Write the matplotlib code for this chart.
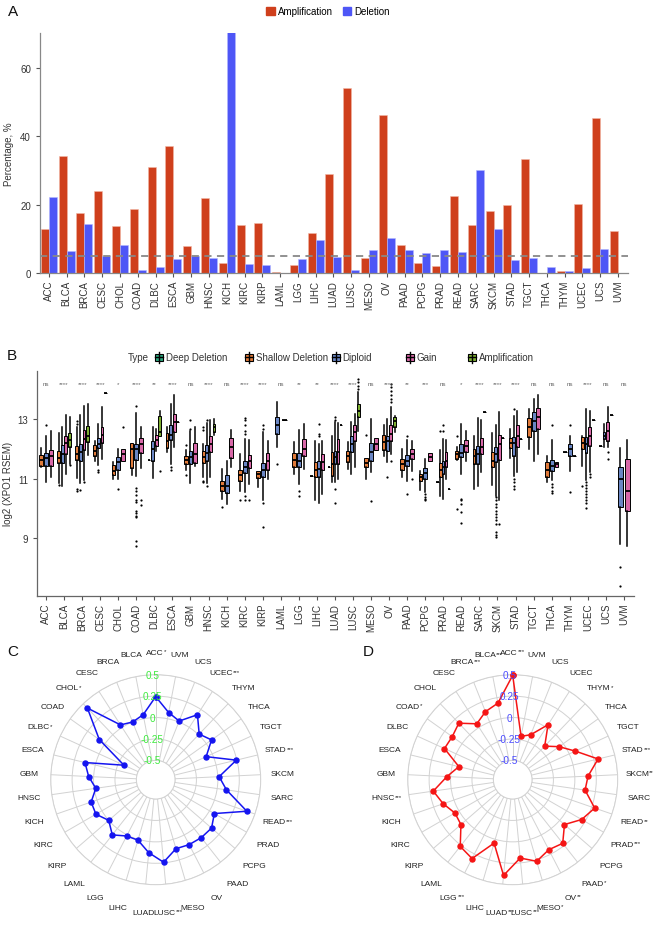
import numpy as np
import matplotlib
matplotlib.use('Agg')
import matplotlib.pyplot as plt
from matplotlib.patches import Rectangle
from matplotlib.lines import Line2D

plt.rcParams['font.family'] = ['Liberation Sans', 'DejaVu Sans']

# ---------------- data ----------------
cancers = ['ACC', 'BLCA', 'BRCA', 'CESC', 'CHOL', 'COAD', 'DLBC', 'ESCA', 'GBM', 'HNSC',
           'KICH', 'KIRC', 'KIRP', 'LAML', 'LGG', 'LIHC', 'LUAD', 'LUSC', 'MESO', 'OV',
           'PAAD', 'PCPG', 'PRAD', 'READ', 'SARC', 'SKCM', 'STAD', 'TGCT', 'THCA', 'THYM',
           'UCEC', 'UCS', 'UVM']

amp_pct = [13.0, 34.2, 17.6, 24.1, 13.6, 18.8, 31.0, 37.1, 7.8, 22.0,
           2.8, 14.0, 14.7, 0.4, 2.4, 11.6, 28.8, 54.1, 4.4, 46.3,
           8.3, 2.8, 2.1, 22.4, 14.1, 18.1, 20.0, 33.3, 0.1, 0.6,
           20.2, 45.4, 12.4]
del_pct = [22.1, 6.3, 14.3, 4.9, 8.1, 0.8, 1.9, 4.1, 5.1, 4.4,
           70.5, 2.6, 2.2, 0.0, 4.0, 9.7, 4.8, 1.0, 6.7, 10.3,
           6.6, 5.9, 6.7, 6.2, 30.0, 13.0, 3.8, 4.5, 1.7, 0.5,
           1.5, 7.1, 0.0]
threshold = 5

cnv_types = ['Deep Deletion', 'Shallow Deletion', 'Diploid', 'Gain', 'Amplification']
type_codes = ['D', 'S', 'N', 'G', 'A']
groups_per_cancer = ['SNG', 'SNGA', 'SNGA', 'SNGA', 'SNG', 'SNG', 'SNGA', 'SNGA', 'SNG', 'SNGA',
                     'SNG', 'SNG', 'SNG', 'NG', 'SNG', 'DSNG', 'DSNGA', 'SNGA', 'SNG', 'SNGA',
                     'SNG', 'SNG', 'DSNGA', 'SNG', 'SNGA', 'SNGA', 'SNGA', 'SNG', 'SNG', 'SNG',
                     'SNGA', 'SNGA', 'NG']

box_whislo = [11.39, 10.88, 11.05,
              10.86, 10.77, 11.16, 11.50,
              11.02, 10.85, 10.95, 11.81,
              11.61, 11.46, 11.65, 13.87,
              10.99, 10.99, 11.59,
              11.13, 11.10, 11.36,
              11.62, 11.03, 11.92, 12.45,
              11.90, 11.50, 12.06, 12.92,
              11.30, 10.85, 11.44,
              11.05, 10.86, 11.05, 12.48,
              10.32, 10.15, 11.41,
              10.60, 10.55, 10.83,
              10.71, 10.27, 11.00,
              12.06, 12.98,
              11.16, 10.83, 11.33,
              11.10, 10.27, 10.20, 10.49,
              11.41, 10.88, 10.88, 10.99, 12.82,
              11.33, 11.16, 11.39, 12.62,
              11.00, 11.22, 11.97,
              11.75, 11.55, 11.83, 12.56,
              11.05, 10.94, 11.27,
              10.62, 10.55, 11.59,
              10.90, 10.43, 10.32, 10.99, 10.66,
              11.63, 11.16, 11.61,
              10.66, 10.74, 11.22, 13.24,
              10.80, 10.43, 10.29, 12.37,
              11.70, 11.10, 11.22, 12.34,
              12.00, 11.61, 11.83,
              10.88, 10.95, 11.39,
              11.89, 11.25, 11.76,
              11.44, 10.96, 11.22, 12.96,
              12.11, 12.06, 12.06, 13.15,
              8.81, 8.75]
box_q1 = [11.44, 11.42, 11.43,
          11.52, 11.53, 11.83, 12.08,
          11.63, 11.61, 11.97, 12.22,
          11.76, 12.03, 12.19, 13.87,
          11.13, 11.31, 11.59,
          11.35, 11.64, 11.86,
          11.62, 11.61, 12.11, 12.45,
          12.04, 12.30, 12.56, 12.92,
          11.50, 11.48, 11.53,
          11.53, 11.61, 11.89, 12.56,
          10.60, 10.51, 11.70,
          10.94, 11.18, 11.36,
          11.02, 11.05, 11.30,
          12.50, 12.98,
          11.41, 11.41, 11.78,
          11.10, 11.05, 11.05, 11.30,
          11.41, 11.10, 11.50, 11.50, 12.82,
          11.55, 11.89, 12.28, 13.09,
          11.39, 11.59, 11.97,
          11.97, 11.92, 12.28, 12.73,
          11.30, 11.44, 11.67,
          10.94, 11.00, 11.59,
          10.90, 11.07, 11.16, 11.39, 10.66,
          11.67, 11.72, 11.89,
          11.50, 11.50, 11.83, 13.24,
          11.39, 11.55, 11.63, 12.37,
          12.04, 11.75, 12.08, 12.34,
          12.39, 12.60, 12.68,
          11.07, 11.27, 11.39,
          11.89, 11.78, 11.76,
          12.00, 11.86, 12.11, 12.96,
          12.11, 12.34, 12.28, 13.15,
          10.06, 9.93]
box_med = [11.64, 11.70, 11.76,
           11.69, 11.83, 12.20, 12.30,
           11.83, 11.89, 12.32, 12.42,
           11.92, 12.17, 12.47, 13.87,
           11.27, 11.55, 11.83,
           12.00, 12.00, 12.17,
           11.62, 12.00, 12.30, 12.56,
           12.28, 12.48, 12.90, 12.92,
           11.63, 11.72, 11.83,
           11.72, 11.86, 12.17, 12.75,
           10.77, 10.74, 12.06,
           11.11, 11.39, 11.61,
           11.16, 11.30, 11.61,
           12.79, 12.98,
           11.63, 11.61, 12.00,
           11.10, 11.30, 11.33, 11.55,
           11.41, 11.50, 11.72, 11.89, 12.82,
           11.78, 12.17, 12.56, 13.29,
           11.54, 11.89, 12.17,
           12.23, 12.26, 12.50, 12.93,
           11.48, 11.61, 11.83,
           11.05, 11.18, 11.72,
           10.90, 11.30, 11.39, 11.61, 10.66,
           11.83, 11.86, 12.11,
           11.78, 11.83, 12.08, 13.24,
           11.61, 11.83, 12.17, 12.37,
           12.20, 12.19, 12.45, 12.34,
           12.73, 12.93, 13.07,
           11.30, 11.44, 11.48,
           11.89, 12.00, 11.76,
           12.19, 12.17, 12.45, 12.96,
           12.11, 12.45, 12.62, 13.15,
           11.00, 10.60]
box_q3 = [11.81, 11.88, 11.96,
          11.92, 12.14, 12.42, 12.53,
          12.11, 12.17, 12.64, 12.78,
          12.14, 12.37, 12.73, 13.87,
          11.46, 11.72, 12.00,
          12.20, 12.17, 12.37,
          11.62, 12.26, 12.48, 13.12,
          12.53, 12.79, 13.16, 12.92,
          11.76, 11.92, 12.20,
          11.92, 12.15, 12.45, 12.84,
          10.94, 11.11, 12.37,
          11.30, 11.58, 11.81,
          11.27, 11.52, 11.86,
          13.07, 12.98,
          11.86, 11.86, 12.32,
          11.10, 11.55, 11.61, 11.83,
          11.41, 11.89, 11.92, 12.34, 12.82,
          11.92, 12.42, 12.79, 13.52,
          11.70, 12.19, 12.37,
          12.48, 12.45, 12.79, 13.09,
          11.67, 11.81, 12.00,
          11.16, 11.35, 11.86,
          10.90, 11.52, 11.61, 11.89, 10.66,
          11.92, 12.17, 12.31,
          12.00, 12.11, 12.37, 13.24,
          11.89, 12.08, 12.48, 12.37,
          12.37, 12.39, 12.79, 12.34,
          13.04, 13.24, 13.38,
          11.55, 11.63, 11.55,
          11.89, 12.17, 11.76,
          12.39, 12.39, 12.73, 12.96,
          12.11, 12.56, 12.90, 13.15,
          11.41, 11.67]
box_whishi = [12.03, 12.45, 12.62,
              12.54, 12.75, 13.15, 13.07,
              12.73, 13.15, 13.43, 13.50,
              12.28, 12.84, 13.40, 13.87,
              11.55, 12.00, 12.00,
              12.20, 13.20, 12.73,
              11.62, 12.73, 12.67, 13.29,
              12.73, 13.52, 13.80, 12.92,
              11.95, 12.60, 12.73,
              12.17, 12.87, 12.98, 13.01,
              11.33, 11.61, 12.64,
              11.83, 12.34, 12.31,
              11.27, 12.56, 12.28,
              13.57, 12.98,
              12.23, 12.64, 12.84,
              11.10, 12.28, 12.17, 12.28,
              11.41, 12.42, 12.90, 12.87, 12.82,
              12.23, 12.90, 13.18, 13.90,
              11.70, 13.00, 12.37,
              12.79, 13.00, 13.40, 13.12,
              12.00, 12.30, 12.26,
              11.27, 11.67, 11.86,
              10.90, 11.97, 12.34, 12.30, 10.66,
              12.08, 12.84, 12.62,
              12.45, 13.04, 12.98, 13.24,
              12.53, 12.82, 13.24, 12.37,
              12.67, 13.12, 13.29, 12.34,
              13.35, 13.68, 13.80,
              11.75, 12.30, 11.55,
              11.89, 12.45, 11.76,
              12.42, 13.35, 13.29, 12.96,
              12.11, 12.84, 13.40, 13.15,
              12.02, 12.30]
box_outliers = [[], [12.80], [],
                [10.80], [], [], [11.45],
                [12.95, 12.84, 10.64, 10.58], [10.62], [10.88], [],
                [], [11.30, 11.23], [], [],
                [], [10.64], [12.75],
                [], [13.46, 10.69, 10.60, 10.47, 10.27, 10.22, 9.93, 9.84, 9.76, 9.71, 8.92, 8.75], [10.29, 10.11],
                [], [], [], [11.25],
                [], [11.40, 11.30], [], [],
                [12.15, 11.14], [12.96, 12.67], [],
                [12.75, 12.64, 10.94, 10.88], [12.98, 10.76], [], [],
                [10.06], [], [],
                [10.30], [13.04, 12.96, 12.79, 12.62, 12.51, 10.43, 10.27], [10.27],
                [], [12.79, 12.68, 10.18, 9.37], [],
                [11.48], [],
                [], [10.60, 10.41], [],
                [], [], [12.84, 12.50, 12.45], [],
                [], [], [13.07, 12.96, 10.66, 10.20], [], [],
                [], [], [], [14.02, 14.12, 14.24, 14.36],
                [12.48], [10.24], [],
                [], [11.07], [14.19, 14.07, 13.96, 13.80, 13.68, 13.57, 11.60], [],
                [], [12.45, 10.49], [10.99],
                [], [10.49, 10.40, 10.32, 10.27], [],
                [], [12.62], [12.79, 12.62], [], [],
                [12.42, 9.99], [10.32, 10.27, 10.15, 9.87, 9.50], [],
                [], [], [], [],
                [], [10.38, 10.27, 10.15, 10.04, 9.93, 9.82, 9.71, 9.60, 9.48, 9.20, 9.10, 9.04], [9.48], [],
                [], [13.35, 10.99, 10.88, 10.77, 10.66], [], [],
                [], [], [],
                [], [12.82, 10.83, 10.72, 10.60, 10.52], [],
                [], [12.79, 10.55], [],
                [10.74], [10.90, 10.80, 10.70, 10.60, 10.50, 10.40, 10.30, 10.20, 10.00], [11.16, 11.05], [],
                [], [], [11.89, 11.67], [],
                [8.03, 7.38], []]

signif = ['ns', '****', '****', '****', '*', '****', '**', '****', 'ns', '****',
          'ns', '****', '****', 'ns', '**', '**', '****', '****', 'ns', '****',
          '**', '***', 'ns', '*', '****', '****', '****', 'ns', 'ns', 'ns',
          '****', 'ns', 'ns']

radar_c_labels = ['ACC*', 'BLCA', 'BRCA', 'CESC', 'CHOL*', 'COAD', 'DLBC*', 'ESCA', 'GBM', 'HNSC',
                  'KICH', 'KIRC', 'KIRP', 'LAML', 'LGG', 'LIHC', 'LUAD', 'LUSC***', 'MESO', 'OV',
                  'PAAD', 'PCPG', 'PRAD', 'READ***', 'SARC', 'SKCM', 'STAD***', 'TGCT', 'THCA', 'THYM',
                  'UCEC***', 'UCS', 'UVM']
radar_c_values = [0.244, 0.047, 0.000, 0.035, 0.430, 0.083, -0.318, 0.124, 0.058, -0.019,
                  0.072, 0.080, 0.000, 0.094, 0.014, 0.010, 0.130, 0.242, 0.114, 0.127,
                  0.135, 0.137, 0.065, 0.400, 0.109, 0.016, 0.243, -0.078, 0.075, 0.010,
                  0.176, 0.012, 0.073]
radar_d_labels = ['ACC***', 'BLCA***', 'BRCA***', 'CESC', 'CHOL', 'COAD*', 'DLBC', 'ESCA', 'GBM', 'HNSC***',
                  'KICH', 'KIRC', 'KIRP', 'LAML', 'LGG***', 'LIHC', 'LUAD***', 'LUSC***', 'MESO*', 'OV**',
                  'PAAD*', 'PCPG', 'PRAD***', 'READ**', 'SARC', 'SKCM**', 'STAD***', 'TGCT', 'THCA', 'THYM*',
                  'UCEC', 'UCS', 'UVM']
radar_d_values = [0.493, 0.185, 0.130, 0.050, 0.186, 0.141, 0.150, -0.079, 0.043, 0.211,
                  0.133, 0.053, 0.074, 0.265, 0.310, 0.046, 0.397, 0.193, 0.267, 0.194,
                  0.219, 0.074, 0.204, 0.287, 0.128, 0.155, 0.300, 0.078, -0.061, -0.184,
                  0.037, -0.160, -0.210]
radar_ticks = [0.5, 0.25, 0, -0.25, -0.5]
radar_tick_labels = ['0.5', '0.25', '0', '-0.25', '-0.5']

# ---------------- style ----------------
W, H = 669, 929
AMP_COL = '#CF3F1C'
DEL_COL = '#4E56F6'
type_colors = {'D': '#2BA57C', 'S': '#E07A3A', 'N': '#6A86C4', 'G': '#D868A8', 'A': '#7DAE32'}
AX_COL = '#555555'
TXT_COL = '#333333'

fig = plt.figure(figsize=(W / 100, H / 100), dpi=100)


def frect(left, top, right, bottom):
    return [left / W, 1 - bottom / H, (right - left) / W, (bottom - top) / H]


# ---------------- Panel A ----------------
axA = fig.add_axes(frect(40, 33.5, 628, 274))
x = np.arange(len(cancers))
axA.bar(x - 0.225, amp_pct, width=0.45, color=AMP_COL, edgecolor='#F2B8A6', linewidth=0.4, zorder=2)
axA.bar(x + 0.225, del_pct, width=0.45, color=DEL_COL, edgecolor='#B4B8FF', linewidth=0.4, zorder=2)
axA.axhline(threshold, color='#888888', ls=(0, (4, 3)), lw=1.3, zorder=3)
axA.set_xlim(-0.5, 32.56)
axA.set_ylim(0, 70.3)
axA.set_xticks(x)
axA.set_xticklabels(cancers, rotation=90, fontsize=7, color=TXT_COL)
axA.set_yticks([0, 20, 40, 60])
axA.tick_params(axis='y', labelsize=7, colors=AX_COL, labelcolor=TXT_COL, length=3, width=0.8)
axA.tick_params(axis='x', colors=AX_COL, labelcolor=TXT_COL, length=3, width=0.8, pad=2)
for s in ['top', 'right']:
    axA.spines[s].set_visible(False)
for s in ['left', 'bottom']:
    axA.spines[s].set_color('#888888')
    axA.spines[s].set_linewidth(0.9)
axA.set_ylabel('Percentage, %', fontsize=7, color=TXT_COL)
axA.yaxis.set_label_coords((14 - 40) / 588, 0.5)
handles = [Rectangle((0, 0), 1, 1, color=AMP_COL), Rectangle((0, 0), 1, 1, color=DEL_COL)]
fig.legend(handles, ['Amplification', 'Deletion'], loc='center',
           bbox_to_anchor=(328 / W, 1 - 12 / H), ncol=2, frameon=False, fontsize=7,
           handlelength=0.9, handleheight=0.9, columnspacing=1.0, handletextpad=0.3)

# ---------------- Panel B ----------------
axB = fig.add_axes(frect(37, 371.7, 634, 596.7))
k = 0
for i, grp in enumerate(groups_per_cancer):
    n = len(grp)
    sp = 0.8 / n
    w = min(0.8 * sp, 0.25)
    for j, code in enumerate(grp):
        pos = i + (j - (n - 1) / 2) * sp
        st = dict(med=box_med[k], q1=box_q1[k], q3=box_q3[k],
                  whislo=box_whislo[k], whishi=box_whishi[k], fliers=box_outliers[k])
        axB.bxp([st], positions=[pos], widths=[w], patch_artist=True, showcaps=False,
                manage_ticks=False,
                boxprops=dict(facecolor=type_colors[code], edgecolor='black', linewidth=0.7),
                whiskerprops=dict(color='black', linewidth=1.1),
                medianprops=dict(color='black', linewidth=1.3),
                flierprops=dict(marker='o', markersize=1.6, markerfacecolor='black',
                                markeredgecolor='none'))
        k += 1
for i, s in enumerate(signif):
    axB.text(i, 14.19, s, ha='center', va='center', fontsize=4.5, color='#666666')
axB.set_xlim(-0.5, 32.56)
axB.set_ylim(7.07, 14.63)
axB.set_xticks(x)
axB.set_xticklabels(cancers, rotation=90, fontsize=7, color=TXT_COL)
axB.set_yticks([9, 11, 13])
axB.tick_params(axis='y', labelsize=7, colors=AX_COL, labelcolor=TXT_COL, length=3, width=0.8)
axB.tick_params(axis='x', colors=AX_COL, labelcolor=TXT_COL, length=3, width=0.8, pad=2)
for s in ['top', 'right']:
    axB.spines[s].set_visible(False)
for s in ['left', 'bottom']:
    axB.spines[s].set_color('#666666')
    axB.spines[s].set_linewidth(0.9)
axB.set_ylabel('log2 (XPO1 RSEM)', fontsize=7, color=TXT_COL)
axB.yaxis.set_label_coords((13 - 37) / 597, 0.5)

# ---------------- Panels C and D ----------------
R0 = -0.7252
PX_PER_UNIT = 105 / (0.5 - R0)


def radar(rect, values, labels, line_col, tick_col):
    ax = fig.add_axes(rect, projection='polar')
    n = len(values)
    th = 2 * np.pi * np.arange(n) / n
    ax.set_theta_zero_location('N')
    ax.set_theta_direction(1)
    ax.set_ylim(-0.5, 0.5)
    ax.set_rorigin(R0)
    ax.set_xticks(th)
    ax.set_xticklabels([])
    ax.set_yticks(radar_ticks)
    ax.set_yticklabels([])
    ax.grid(True, color='#D2D2D2', lw=0.7)
    for sp_name in ax.spines:
        ax.spines[sp_name].set_color('#D2D2D2')
        ax.spines[sp_name].set_linewidth(0.7)
    ax.tick_params(length=0)
    tt = np.append(th, th[0])
    vv = np.append(values, values[0])
    ax.plot(tt, vv, color=line_col, lw=1.1, marker='o', ms=3.6, zorder=5, clip_on=False)
    for t, lab in zip(th, labels):
        base = lab.rstrip('*')
        stars = lab[len(base):]
        r_px = 127 + 6 * max(0.0, -np.cos(t))
        txt = ax.annotate(base, xy=(t, R0 + r_px / PX_PER_UNIT),
                          xytext=(-0.85 * len(stars), 0), textcoords='offset points',
                          ha='center', va='center', fontsize=6.0,
                          color='#222222', annotation_clip=False)
        if stars:
            ax.annotate(stars, xy=(1, 1), xycoords=txt, xytext=(0.1, 0.5),
                        textcoords='offset points', ha='left', va='top',
                        fontsize=4.4, color='#222222', annotation_clip=False)
    for v, tl in zip(radar_ticks, radar_tick_labels):
        ax.annotate(tl, xy=(0, v), xytext=(-2.5, 0), textcoords='offset points',
                    ha='center', va='center', fontsize=7.2, color=tick_col, zorder=6)
    return ax


radar(frect(155.7 - 105, 780.7 - 105, 155.7 + 105, 780.7 + 105),
      radar_c_values, radar_c_labels, '#1515F0', '#3DEB3D')
radar(frect(512.7 - 105, 780.7 - 105, 512.7 + 105, 780.7 + 105),
      radar_d_values, radar_d_labels, '#F51515', '#4A4AFF')

# ---------------- overlay: panel letters and B legend ----------------
ov = fig.add_axes([0, 0, 1, 1], facecolor='none')
ov.set_xlim(0, W)
ov.set_ylim(H, 0)
ov.axis('off')
for lab, (lx, ly) in {'A': (8, 12), 'B': (7, 356), 'C': (7, 652), 'D': (363, 652)}.items():
    ov.text(lx, ly, lab, fontsize=11, ha='left', va='center', color='#111111')

ly = 358
ov.text(128, ly, 'Type', fontsize=7, ha='left', va='center', color=TXT_COL)
key_x = [159, 249, 336, 410, 472]
text_x = [165.5, 255.5, 342, 416.5, 478.5]
for kx, tx, code, name in zip(key_x, text_x, type_codes, cnv_types):
    ov.add_line(Line2D([kx, kx], [ly - 5.5, ly + 5.5], color='black', lw=1.0))
    ov.add_patch(Rectangle((kx - 4, ly - 3.5), 8, 7, facecolor=type_colors[code],
                           edgecolor='black', lw=0.8))
    ov.add_line(Line2D([kx - 4, kx + 4], [ly, ly], color='black', lw=1.0))
    ov.text(tx, ly, name, fontsize=7, ha='left', va='center', color=TXT_COL)

fig.savefig('out.png', dpi=100)
